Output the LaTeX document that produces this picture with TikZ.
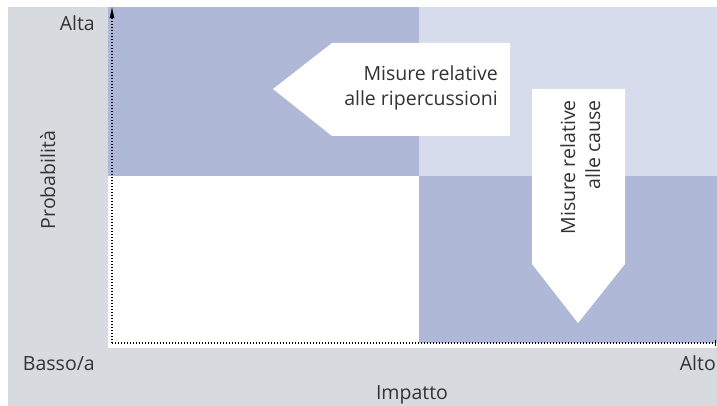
\documentclass[tikz,border=0pt]{standalone}
\usepackage{fontspec}
\setmainfont{Open Sans}
\usetikzlibrary{arrows.meta}
\definecolor{bggray}{HTML}{D7DBDF}
\definecolor{quadblue}{HTML}{AFB8D7}
\definecolor{quadlight}{HTML}{D6DCEB}
\definecolor{txtgray}{HTML}{333333}

\begin{document}
\begin{tikzpicture}[x=1pt,y=-1pt,
  lbl/.style={text=txtgray,inner sep=0pt,font=\fontsize{19.5}{25}\selectfont},
  axis/.style={line width=1.3pt,dash pattern=on 1.3pt off 1.7pt}]
  \useasboundingbox (0,0) rectangle (717,406);
  \fill[bggray] (8,7) rectangle (717,406);
  \fill[white] (108,7) rectangle (717,348);
  \fill[quadblue] (108,7) rectangle (419,176);
  \fill[quadlight] (419,7) rectangle (717,176);
  \fill[quadblue] (419,176) rectangle (717,343);
  \fill[white] (510,43)--(332,43)--(273,89)--(332,136)--(510,136)--cycle;
  \fill[white] (532,89)--(625,89)--(625,264)--(578,323)--(532,264)--cycle;
  \coordinate (origin) at (112,343);
  \coordinate (ytop) at (112,7);
  \coordinate (xend) at (716,343);
  \draw[axis] (origin)--(112,18);
  \draw[-{Latex[length=11pt,width=5pt]}] (112,17)--(ytop);
  \draw[axis] (origin)--(xend);
  \draw[line width=1.5pt] (715.5,340)--(715.5,346);
  \node[lbl,anchor=base east] (alta) at (95,31) {Alta};
  \node[lbl,anchor=base east] (basso) at (95,370) {Basso/a};
  \node[lbl,anchor=base east] (alto) at (716,370) {Alto};
  \node[lbl,anchor=base] (impatto) at (412,399) {Impatto};
  \node[lbl,anchor=base,rotate=90] (prob) at (55,180) {Probabilità};
  \node[lbl,anchor=base east,align=right] (ripercussioni) at (498,106)
    {Misure relative\\alle ripercussioni};
  \node[lbl,anchor=base east,align=right,rotate=90] (cause) at (600,100)
    {Misure relative\\alle cause};
\end{tikzpicture}
\end{document}
